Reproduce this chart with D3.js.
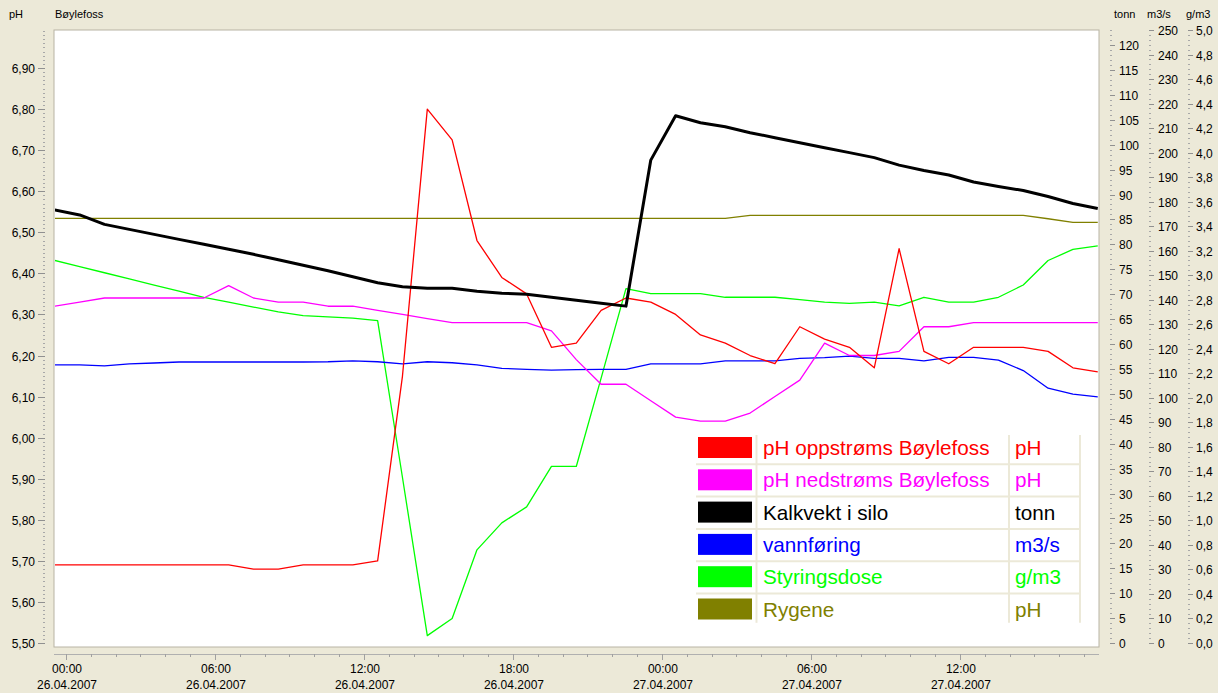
<!DOCTYPE html>
<html><head><meta charset="utf-8">
<script src="https://cdn.jsdelivr.net/npm/d3@7"></script>
<style>
html,body{margin:0;padding:0;background:#ECE9D8;}
svg{display:block;font-family:"Liberation Sans",Arial,sans-serif;}
</style></head>
<body>
<svg id="c" width="1218" height="693"></svg>
<script>
// ---- data (hourly samples, first at 25.04.2007 23:33) ----
const startTime = new Date(2007, 3, 25, 23, 33);
const phUp = [5.69,5.69,5.69,5.69,5.69,5.69,5.69,5.69,5.68,5.68,5.69,5.69,5.69,5.70,6.15,6.80,6.725,6.48,6.39,6.35,6.22,6.23,6.31,6.34,6.33,6.30,6.25,6.23,6.20,6.18,6.27,6.24,6.22,6.17,6.46,6.21,6.18,6.22,6.22,6.22,6.21,6.17,6.16];
const phDown = [6.32,6.33,6.34,6.34,6.34,6.34,6.34,6.37,6.34,6.33,6.33,6.32,6.32,6.31,6.30,6.29,6.28,6.28,6.28,6.28,6.26,6.19,6.13,6.13,6.09,6.05,6.04,6.04,6.06,6.10,6.14,6.23,6.20,6.20,6.21,6.27,6.27,6.28,6.28,6.28,6.28,6.28,6.28];
const kalk = [86.9,85.9,84.0,83.0,82.0,81.0,80.0,79.0,78.0,76.9,75.8,74.7,73.5,72.3,71.5,71.2,71.2,70.6,70.2,70.0,69.4,68.8,68.2,67.6,96.9,105.8,104.4,103.6,102.4,101.4,100.4,99.4,98.4,97.4,95.9,94.8,93.9,92.5,91.6,90.8,89.6,88.2,87.2];
const vann = [113.4,113.4,113.0,113.8,114.2,114.6,114.6,114.6,114.6,114.6,114.6,114.7,115.1,114.7,113.8,114.7,114.3,113.4,112.0,111.6,111.3,111.5,111.6,111.6,113.8,113.8,113.8,115.1,115.1,115.1,116.1,116.4,117.0,116.1,116.1,115.1,116.5,116.5,115.4,111.1,103.9,101.5,100.4];
const dose = [3.12,3.07,3.02,2.97,2.92,2.87,2.82,2.78,2.74,2.70,2.67,2.66,2.65,2.63,1.35,0.06,0.20,0.76,0.98,1.11,1.44,1.44,2.16,2.89,2.85,2.85,2.85,2.82,2.82,2.82,2.80,2.78,2.77,2.78,2.75,2.82,2.78,2.78,2.82,2.92,3.12,3.21,3.24];
const rygene = [6.534,6.534,6.534,6.534,6.534,6.534,6.534,6.534,6.534,6.534,6.534,6.534,6.534,6.534,6.534,6.534,6.534,6.534,6.534,6.534,6.534,6.534,6.534,6.534,6.534,6.534,6.534,6.534,6.541,6.541,6.541,6.541,6.541,6.541,6.541,6.541,6.541,6.541,6.541,6.541,6.533,6.524,6.524];

const phTicks = [5.5,5.6,5.7,5.8,5.9,6.0,6.1,6.2,6.3,6.4,6.5,6.6,6.7,6.8,6.9];
const tonnTicks = [0,5,10,15,20,25,30,35,40,45,50,55,60,65,70,75,80,85,90,95,100,105,110,115,120];
const m3sTicks = [0,10,20,30,40,50,60,70,80,90,100,110,120,130,140,150,160,170,180,190,200,210,220,230,240,250];
const gm3Ticks = [0,0.2,0.4,0.6,0.8,1.0,1.2,1.4,1.6,1.8,2.0,2.2,2.4,2.6,2.8,3.0,3.2,3.4,3.6,3.8,4.0,4.2,4.4,4.6,4.8,5.0];

const seriesNames = ["pH oppstrøms Bøylefoss","pH nedstrøms Bøylefoss","Kalkvekt i silo","vannføring","Styringsdose","Rygene"];
const seriesUnits = ["pH","pH","tonn","m3/s","g/m3","pH"];
const seriesColors = ["#FF0000","#FF00FF","#000000","#0000FF","#00FF00","#808000"];

// ---- layout ----
const svg = d3.select("#c");
const P = {l:54, r:1099, t:30, b:647};
const yBase = 643;

const x = d3.scaleTime()
  .domain([new Date(2007,3,25,23,31), new Date(2007,3,27,17,36)])
  .range([P.l, P.r]);
const yPH = d3.scaleLinear().domain([5.5,7.0]).range([yBase, yBase-15*41.07]);
const yT = d3.scaleLinear().domain([0,120]).range([yBase, 45]);
const yM = d3.scaleLinear().domain([0,250]).range([yBase, 30]);
const yG = d3.scaleLinear().domain([0,5]).range([yBase, 30]);

const times = phUp.map((_, i) => d3.timeHour.offset(startTime, i));
const fmt = v => v.toFixed(2).replace(".", ",");
const fmt1 = v => v.toFixed(1).replace(".", ",");

// plot area
svg.append("rect").attr("x",P.l).attr("y",P.t).attr("width",P.r-P.l).attr("height",P.b-P.t)
  .attr("fill","#FFFFFF").attr("stroke","#B8B4A4").attr("stroke-width",1);

svg.append("clipPath").attr("id","clip").append("rect")
  .attr("x",P.l+1).attr("y",P.t+1).attr("width",P.r-P.l-2).attr("height",P.b-P.t-2);

// headers
svg.append("text").attr("x",9).attr("y",18).attr("font-size",11).text("pH");
svg.append("text").attr("x",55).attr("y",18).attr("font-size",11).text("Bøylefoss");
svg.append("text").attr("x",1114).attr("y",18).attr("font-size",11).text("tonn");
svg.append("text").attr("x",1147).attr("y",18).attr("font-size",11).text("m3/s");
svg.append("text").attr("x",1186).attr("y",18).attr("font-size",11).text("g/m3");

const tickCol = "#A8A8A8";
// left axis
const gL = svg.append("g");
d3.range(550, 700).forEach(i => {
  const v = i/100;
  gL.append("line").attr("x1",43).attr("x2",45).attr("y1",Math.round(yPH(v))+0.5).attr("y2",Math.round(yPH(v))+0.5)
    .attr("stroke",tickCol).attr("stroke-width",1);
});
phTicks.forEach(v => {
  const yy = Math.round(yPH(v))+0.5;
  gL.append("line").attr("x1",38).attr("x2",45).attr("y1",yy).attr("y2",yy).attr("stroke","#909090");
  gL.append("text").attr("x",35).attr("y",yy+4).attr("text-anchor","end").attr("font-size",12).text(fmt(v));
});

// right axes
function rightAxis(scale, ticks, minorStep, max, ax, lx, f) {
  const g = svg.append("g");
  d3.range(0, Math.round(max/minorStep)+1).forEach(i => {
    const v = i*minorStep;
    const yy = Math.round(scale(v))+0.5;
    if (yy < 29) return;
    g.append("line").attr("x1",ax).attr("x2",ax+2).attr("y1",yy).attr("y2",yy).attr("stroke",tickCol);
  });
  ticks.forEach(v => {
    const yy = Math.round(scale(v))+0.5;
    g.append("line").attr("x1",ax).attr("x2",ax+5).attr("y1",yy).attr("y2",yy).attr("stroke","#909090");
    g.append("text").attr("x",lx).attr("y",yy+4).attr("font-size",12).text(f(v));
  });
}
rightAxis(yT, tonnTicks, 1, 123, 1110, 1119, v => String(v));
rightAxis(yM, m3sTicks, 2, 250, 1149, 1158, v => String(v));
rightAxis(yG, gm3Ticks, 0.04, 5, 1188, 1196, fmt1);

// bottom axis
const gB = svg.append("g");
gB.append("line").attr("x1",P.l).attr("x2",P.r).attr("y1",654.5).attr("y2",654.5).attr("stroke","#B0B0B0");
x.ticks(d3.timeHour.every(1)).forEach(t => {
  const xx = Math.round(x(t))+0.5;
  const major = t.getHours()%6===0;
  gB.append("line").attr("x1",xx).attr("x2",xx).attr("y1",654).attr("y2",major?660:657).attr("stroke","#A0A0A0");
});
const fT = d3.timeFormat("%H:%M"), fD = d3.timeFormat("%d.%m.%Y");
x.ticks(d3.timeHour.every(6)).forEach(t => {
  const xx = x(t);
  gB.append("text").attr("x",xx+1).attr("y",673).attr("text-anchor","middle").attr("font-size",12).text(fT(t));
  gB.append("text").attr("x",xx+1).attr("y",689).attr("text-anchor","middle").attr("font-size",12).text(fD(t));
});

// lines
const gLines = svg.append("g").attr("clip-path","url(#clip)");
function drawLine(vals, scale, color, w) {
  const line = d3.line().x((d,i) => x(times[i])).y(d => scale(d));
  gLines.append("path").attr("d", line(vals)).attr("fill","none").attr("stroke",color)
    .attr("stroke-width",w).attr("stroke-linejoin","round");
}
drawLine(rygene, yPH, seriesColors[5], 1.3);
drawLine(dose, yG, seriesColors[4], 1.3);
drawLine(vann, yM, seriesColors[3], 1.3);
drawLine(phDown, yPH, seriesColors[1], 1.3);
drawLine(phUp, yPH, seriesColors[0], 1.3);
drawLine(kalk, yT, seriesColors[2], 3);

// legend
const gLeg = svg.append("g");
const LX = 690, LY = 431, LW = 392, rowH = 32.3;
gLeg.append("rect").attr("x",LX).attr("y",LY).attr("width",LW).attr("height",rowH*6+2).attr("fill","#FFFFFF");
[756.5, 1009, 1080].forEach(xx => gLeg.append("line").attr("x1",xx).attr("x2",xx).attr("y1",LY+4).attr("y2",LY+rowH*6-2).attr("stroke","#ECE9D8").attr("stroke-width",2));
seriesNames.forEach((name, i) => {
  const y0 = LY + i*rowH;
  if (i>0) gLeg.append("line").attr("x1",LX+6).attr("x2",1080).attr("y1",y0+1).attr("y2",y0+1).attr("stroke","#ECE9D8").attr("stroke-width",2);
  gLeg.append("rect").attr("x",698).attr("y",y0+6).attr("width",54).attr("height",21).attr("fill",seriesColors[i]);
  gLeg.append("text").attr("x",763).attr("y",y0+24).attr("font-size",20.7).attr("fill",seriesColors[i]).text(name);
  gLeg.append("text").attr("x",1015).attr("y",y0+24).attr("font-size",20.7).attr("fill",seriesColors[i]).text(seriesUnits[i]);
});
</script>
</body></html>
